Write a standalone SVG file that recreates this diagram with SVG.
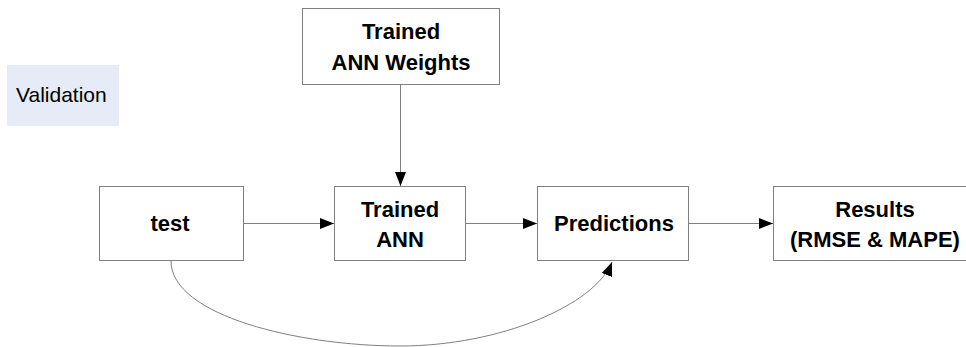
<svg xmlns="http://www.w3.org/2000/svg" width="966" height="347" viewBox="0 0 966 347">
  <style>
    .box { fill: #ffffff; stroke: #808080; stroke-width: 1; }
    .lbl { font-family: "Liberation Sans", Arial, sans-serif; font-weight: bold; font-size: 22px; fill: #000000; text-anchor: middle; }
    .tag { font-family: "Liberation Sans", Arial, sans-serif; font-size: 21px; fill: #000000; }
    .edge { fill: none; stroke: #808080; stroke-width: 1; }
  </style>
  <defs>
    <marker id="arrow" markerUnits="userSpaceOnUse" markerWidth="15" markerHeight="12" refX="14" refY="5.5" orient="auto">
      <path d="M0,0 L14,5.5 L0,11 Z" fill="#000000"/>
    </marker>
  </defs>
  <rect width="966" height="347" fill="#ffffff"/>

  <g id="validation">
    <rect x="7" y="65" width="112" height="61" fill="#e6ecf7"/>
    <text class="tag" x="16" y="102">Validation</text>
  </g>

  <g id="weights">
    <rect class="box" x="302.5" y="8.5" width="197" height="76"/>
    <text class="lbl" x="401" y="39">Trained</text>
    <text class="lbl" x="401" y="70">ANN Weights</text>
  </g>

  <g id="test">
    <rect class="box" x="99.5" y="186.5" width="144" height="74"/>
    <text class="lbl" x="170" y="231">test</text>
  </g>

  <g id="trained-ann">
    <rect class="box" x="334.5" y="186.5" width="131" height="74"/>
    <text class="lbl" x="400" y="217">Trained</text>
    <text class="lbl" x="400" y="247">ANN</text>
  </g>

  <g id="predictions">
    <rect class="box" x="537.5" y="186.5" width="151" height="74"/>
    <text class="lbl" x="614" y="231">Predictions</text>
  </g>

  <g id="results">
    <rect class="box" x="773.5" y="186.5" width="204" height="74"/>
    <text class="lbl" x="875" y="217">Results</text>
    <text class="lbl" x="875" y="247">(RMSE &amp; MAPE)</text>
  </g>

  <g id="connectors">
    <path class="edge" d="M400.5,84.5 L400.5,186" marker-end="url(#arrow)"/>
    <path class="edge" d="M243.5,223.5 L334,223.5" marker-end="url(#arrow)"/>
    <path class="edge" d="M465.5,223.5 L537,223.5" marker-end="url(#arrow)"/>
    <path class="edge" d="M688.5,223.5 L773,223.5" marker-end="url(#arrow)"/>
    <path class="edge" d="M171,261 C171,316 300,346 400,346 C500,346 595,305 612,262" marker-end="url(#arrow)"/>
  </g>
</svg>
